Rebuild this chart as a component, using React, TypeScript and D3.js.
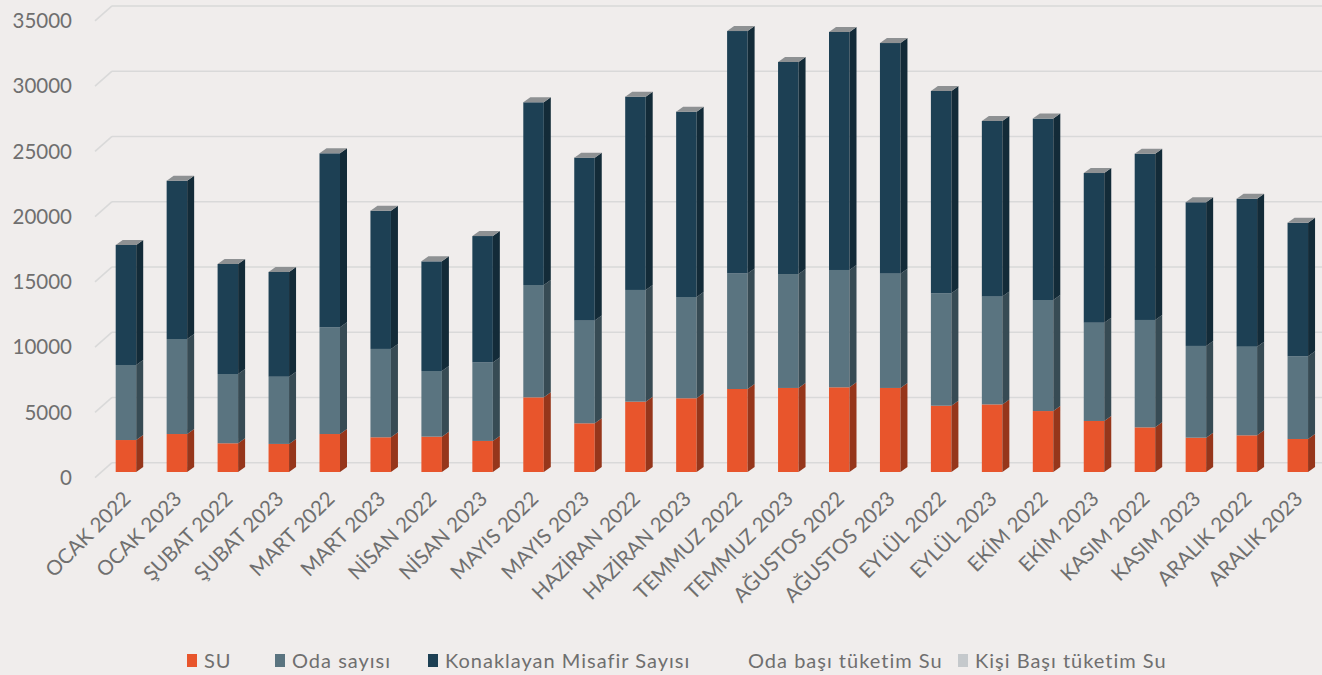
import React from "react";
import * as d3 from "d3";

const categories = [
  "OCAK 2022", "OCAK 2023", "ŞUBAT 2022", "ŞUBAT 2023", "MART 2022", "MART 2023",
  "NİSAN 2022", "NİSAN 2023", "MAYIS 2022", "MAYIS 2023", "HAZİRAN 2022", "HAZİRAN 2023",
  "TEMMUZ 2022", "TEMMUZ 2023", "AĞUSTOS 2022", "AĞUSTOS 2023", "EYLÜL 2022", "EYLÜL 2023",
  "EKİM 2022", "EKİM 2023", "KASIM 2022", "KASIM 2023", "ARALIK 2022", "ARALIK 2023",
];

const su = [2450, 2910, 2200, 2150, 2910, 2660, 2710, 2380, 5720, 3730, 5390, 5650,
  6360, 6440, 6490, 6440, 5080, 5180, 4670, 3910, 3420, 2630, 2810, 2530];
const odaSayisi = [5750, 7280, 5310, 5150, 8180, 6770, 5030, 6020, 8610, 7870, 8560, 7760,
  8860, 8730, 8990, 8760, 8610, 8260, 8510, 7530, 8230, 7030, 6790, 6340];
const misafir = [9200, 12130, 8430, 8030, 13330, 10590, 8400, 9680, 14000, 12490, 14810, 14200,
  18570, 16250, 18240, 17670, 15510, 13460, 13900, 11470, 12740, 11010, 11340, 10230];

const yTicks = [0, 5000, 10000, 15000, 20000, 25000, 30000, 35000];

const seriesNames = ["SU", "Oda sayısı", "Konaklayan Misafir Sayısı", "Oda başı tüketim Su", "Kişi Başı tüketim Su"];
const seriesFront = ["#e8552c", "#5a7480", "#1d4054", "none", "#c5c9cc"];
const seriesSide = ["#96361b", "#374b54", "#132b38"];

const W = 1322;
const H = 675;
const BG = "#f0edec";
const TEXT = "#6f6f6f";
const GRID = "#d9d9d9";
const FONT = "Lato, 'Open Sans', sans-serif";

export default function App() {
  const x = d3.scalePoint<string>().domain(categories).range([125.95, 1297.8]);
  const barW = 20.5;
  const dX = 7;
  const dY = 5;
  // bar front plane
  const yBar = d3.scaleLinear().domain([0, 35000]).range([472, 472 - 35000 * 0.01305]);
  // back wall (gridlines)
  const yBack = d3.scaleLinear().domain([0, 35000]).range([462.7, 462.7 - 35000 * 0.01305]);
  // front plane (labels)
  const yFront = d3.scaleLinear().domain([0, 35000]).range([477.7, 477.7 - 35000 * 0.01305]);

  const stack = d3.stack<number>()
    .keys(["0", "1", "2"])
    .value((i, k) => [su, odaSayisi, misafir][+k][i]);
  const stacked = stack(d3.range(categories.length));

  const legendItems = [
    { x: 187, tx: 204 },
    { x: 275, tx: 292 },
    { x: 428, tx: 445 },
    { x: 731, tx: 748 },
    { x: 958, tx: 975 },
  ];

  return (
    <svg width={W} height={H} style={{ display: "block", position: "absolute", left: 0, top: 0 }}>
      <rect x={0} y={0} width={W} height={H} fill={BG} />
      {yTicks.map((t) => (
        <g key={t}>
          <line x1={112} x2={W} y1={yBack(t)} y2={yBack(t)} stroke={GRID} strokeWidth={1.6} />
          <line x1={95} x2={112} y1={yFront(t)} y2={yBack(t)} stroke={GRID} strokeWidth={1.6} />
          <text x={72} y={yFront(t)} dy="0.35em" textAnchor="end" fontFamily={FONT} fontSize={20.5} fill={TEXT}>
            {t}
          </text>
        </g>
      ))}
      {categories.map((c, i) => {
        const x0 = (x(c) as number) - barW / 2;
        const x1 = x0 + barW;
        const topV = stacked[2][i][1];
        const yt = yBar(topV);
        return (
          <g key={c}>
            {stacked.map((s, si) => {
              const a = yBar(s[i][0]);
              const b = yBar(s[i][1]);
              return (
                <g key={si}>
                  <rect x={x0} y={b} width={barW} height={a - b} fill={seriesFront[si]} />
                  <path
                    d={`M${x1},${b} L${x1 + dX},${b - dY} L${x1 + dX},${a - dY} L${x1},${a} Z`}
                    fill={seriesSide[si]}
                  />
                </g>
              );
            })}
            <path
              d={`M${x0},${yt} L${x0 + dX},${yt - dY} L${x1 + dX},${yt - dY} L${x1},${yt} Z`}
              fill="#8e9193"
            />
            <text
              transform={`translate(${(x(c) as number) + 1},${495}) rotate(-45)`}
              textAnchor="end"
              dy="0.35em"
              fontFamily={FONT}
              fontSize={20.5}
              fill={TEXT}
            >
              {c}
            </text>
          </g>
        );
      })}
      {seriesNames.map((n, i) => (
        <g key={n}>
          {seriesFront[i] !== "none" && (
            <rect x={legendItems[i].x} y={654} width={10} height={13} fill={seriesFront[i]} />
          )}
          <text x={legendItems[i].tx} y={661} dy="0.35em" fontFamily={FONT} fontSize={20} letterSpacing={1} fill={TEXT}>
            {n}
          </text>
        </g>
      ))}
    </svg>
  );
}
